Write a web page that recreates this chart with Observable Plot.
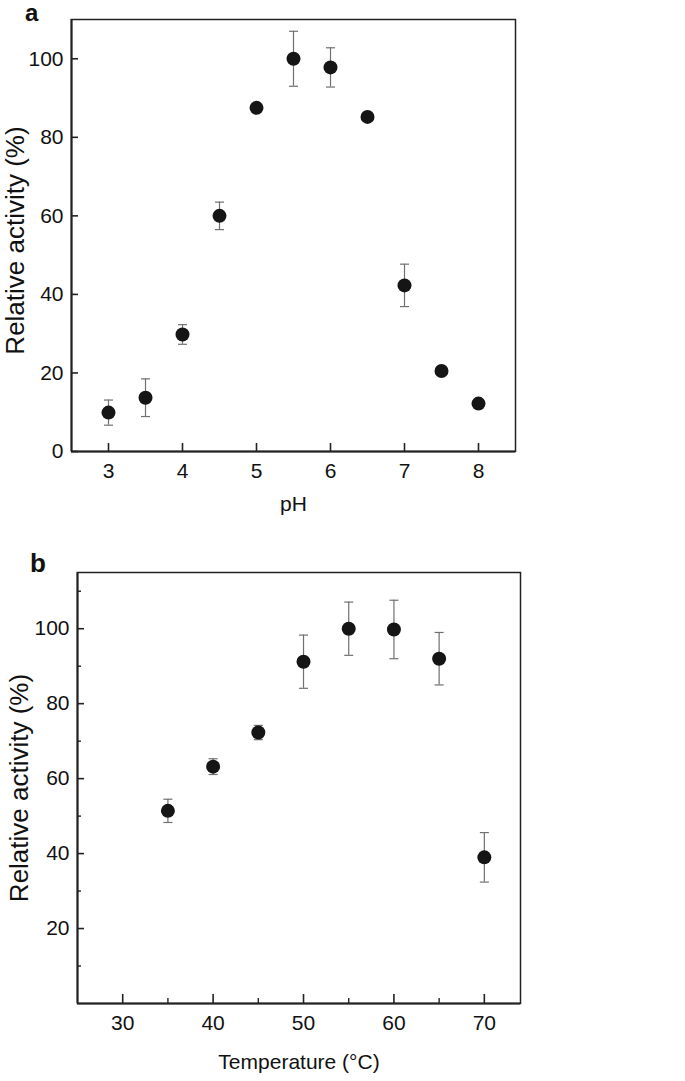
<!DOCTYPE html>
<html>
<head>
<meta charset="utf-8">
<script src="https://cdn.jsdelivr.net/npm/d3@7"></script>
<script src="https://cdn.jsdelivr.net/npm/@observablehq/plot@0.6"></script>
<style>
  html, body { margin: 0; padding: 0; background: #fff; }
  #wrap { position: relative; width: 685px; height: 1081px; overflow: hidden; font-family: "Liberation Sans", Arial, sans-serif; }
  .panel { position: absolute; left: 0; }
  .letter { position: absolute; font-weight: bold; line-height: 1; color: #111; }
</style>
</head>
<body>
<div id="wrap">
  <div class="panel" id="pa" style="top:0"></div>
  <div class="panel" id="pb" style="top:540px"></div>
  <div class="letter" style="left:25px; top:1px; font-size:24px">a</div>
  <div class="letter" style="left:30px; top:550px; font-size:26px">b</div>
</div>
<script>
// ---- Panel a: pH ----
const phValues = [3, 3.5, 4, 4.5, 5, 5.5, 6, 6.5, 7, 7.5, 8];
const phActivity = [9.9, 13.7, 29.8, 60, 87.5, 100, 97.8, 85.2, 42.3, 20.5, 12.2];
const phError = [3.2, 4.8, 2.5, 3.5, 1, 7, 5, 1, 5.4, 1, 0.8];
const phTicks = [3, 4, 5, 6, 7, 8];
const phYTicks = [0, 20, 40, 60, 80, 100];

// ---- Panel b: Temperature ----
const tempValues = [35, 40, 45, 50, 55, 60, 65, 70];
const tempActivity = [51.4, 63.2, 72.3, 91.2, 100, 99.8, 92, 39];
const tempError = [3.1, 2.1, 1.9, 7.1, 7.1, 7.8, 7, 6.6];
const tempTicks = [30, 40, 50, 60, 70];
const tempMinorTicks = [35, 45, 55, 65];
const tempYTicks = [20, 40, 60, 80, 100];
const tempYMinorTicks = [10, 30, 50, 70, 90, 110];

const FONT = "Liberation Sans, Arial, sans-serif";
const capSymbol = {
  draw(context, size) {
    const w = Math.sqrt(size / Math.PI);
    context.moveTo(-w, 0);
    context.lineTo(w, 0);
  }
};

function rows(xs, ys, es) {
  return xs.map((x, i) => ({x, y: ys[i], lo: ys[i] - es[i], hi: ys[i] + es[i]}));
}

function panel(cfg) {
  const plotW = cfg.width - cfg.ml - cfg.mr;
  const plotH = cfg.height - cfg.mt - cfg.mb;
  const data = rows(cfg.xs, cfg.ys, cfg.es);
  const marks = [
    Plot.ruleX(data, {x: "x", y1: "lo", y2: "hi", stroke: "#707070", strokeWidth: 1.2}),
    Plot.dot(data, {x: "x", y: "lo", symbol: capSymbol, r: 4.5, stroke: "#707070", strokeWidth: 1.2}),
    Plot.dot(data, {x: "x", y: "hi", symbol: capSymbol, r: 4.5, stroke: "#707070", strokeWidth: 1.2}),
    Plot.dot(data, {x: "x", y: "y", r: 7, fill: "#151515", stroke: "none"}),
    Plot.frame({stroke: "#222", strokeWidth: 1.5}),
    Plot.ruleY([cfg.yDomain[0]], {stroke: "#222", strokeWidth: 2}),
    Plot.ruleX([cfg.xDomain[0]], {stroke: "#222", strokeWidth: 2}),
    Plot.tickX(cfg.xTicks, {x: d => d, insetTop: plotH - cfg.xTickLen, stroke: "#222", strokeWidth: 1.6}),
    Plot.tickY(cfg.yTicks, {y: d => d, insetRight: plotW - cfg.yTickLen, stroke: "#222", strokeWidth: 1.6}),
    Plot.axisX(cfg.xTicks, {tickSize: 0, tickPadding: 12, label: null, fontSize: 21, fill: "#111", ariaLabel: "hx"}),
    Plot.axisY(cfg.yTicks, {tickSize: 0, tickPadding: 8, label: null, fontSize: 21, fill: "#111", ariaLabel: "hy"}),
    Plot.text([cfg.xLabel], {frameAnchor: "bottom", text: d => d, dy: cfg.xLabelDy, lineAnchor: "middle", fontSize: 21, fill: "#111", ariaLabel: "hl"}),
    Plot.text([cfg.yLabel], {frameAnchor: "left", text: d => d, dx: cfg.yLabelDx, dy: cfg.yLabelDy, rotate: -90, lineAnchor: "middle", textAnchor: "middle", fontSize: 26, fill: "#111"})
  ];
  if (cfg.xMinor) marks.push(Plot.tickX(cfg.xMinor, {x: d => d, insetTop: plotH - 5, stroke: "#222", strokeWidth: 1.4}));
  if (cfg.yMinor) marks.push(Plot.tickY(cfg.yMinor, {y: d => d, insetRight: plotW - 4, stroke: "#222", strokeWidth: 1.4}));
  const svg = Plot.plot({
    width: cfg.width,
    height: cfg.height,
    marginTop: cfg.mt,
    marginBottom: cfg.mb,
    marginLeft: cfg.ml,
    marginRight: cfg.mr,
    style: {fontFamily: FONT, fontSize: "21px", background: "#fff"},
    x: {domain: cfg.xDomain, axis: null},
    y: {domain: cfg.yDomain, axis: null},
    marks
  });
  // slightly taller glyphs for horizontal texts, as in the reference
  svg.querySelectorAll('g[aria-label="hx"] text, g[aria-label="hy"] text, g[aria-label="hl"] text').forEach(t => {
    const tr = t.getAttribute("transform") || "";
    t.setAttribute("transform", tr + " scale(1,1.12)");
  });
  return svg;
}

document.getElementById("pa").appendChild(panel({
  width: 685, height: 540, mt: 19, mb: 89, ml: 71, mr: 170,
  xs: phValues, ys: phActivity, es: phError,
  xDomain: [2.5, 8.5], yDomain: [0, 110],
  xTicks: phTicks, yTicks: phYTicks, xTickLen: 8, yTickLen: 7,
  xLabel: "pH", xLabelDy: 53,
  yLabel: "Relative activity (%)", yLabelDx: -56, yLabelDy: 5
}));

document.getElementById("pb").appendChild(panel({
  width: 685, height: 541, mt: 32, mb: 78, ml: 77, mr: 165,
  xs: tempValues, ys: tempActivity, es: tempError,
  xDomain: [25, 74], yDomain: [0, 115],
  xTicks: tempTicks, yTicks: tempYTicks, xTickLen: 9, yTickLen: 7,
  xMinor: tempMinorTicks, yMinor: tempYMinorTicks,
  xLabel: "Temperature (°C)", xLabelDy: 59,
  yLabel: "Relative activity (%)", yLabelDx: -58, yLabelDy: 0
}));
</script>
</body>
</html>
